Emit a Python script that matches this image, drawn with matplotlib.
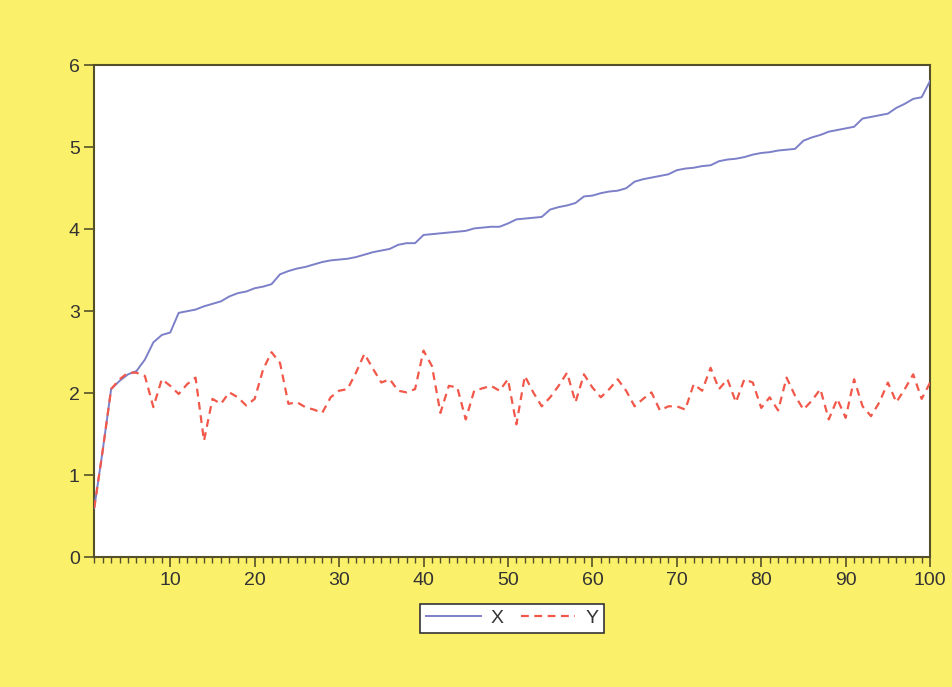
import matplotlib
matplotlib.use("Agg")
import matplotlib.pyplot as plt
from matplotlib.ticker import MultipleLocator

t = list(range(1, 101))
x_vals = [0.60, 1.30, 2.05, 2.15, 2.23, 2.27, 2.41, 2.62, 2.71, 2.74,
          2.98, 3.00, 3.02, 3.06, 3.09, 3.12, 3.18, 3.22, 3.24, 3.28,
          3.30, 3.33, 3.45, 3.49, 3.52, 3.54, 3.57, 3.60, 3.62, 3.63,
          3.64, 3.66, 3.69, 3.72, 3.74, 3.76, 3.81, 3.83, 3.83, 3.93,
          3.94, 3.95, 3.96, 3.97, 3.98, 4.01, 4.02, 4.03, 4.03, 4.07,
          4.12, 4.13, 4.14, 4.15, 4.24, 4.27, 4.29, 4.32, 4.40, 4.41,
          4.44, 4.46, 4.47, 4.50, 4.58, 4.61, 4.63, 4.65, 4.67, 4.72,
          4.74, 4.75, 4.77, 4.78, 4.83, 4.85, 4.86, 4.88, 4.91, 4.93,
          4.94, 4.96, 4.97, 4.98, 5.08, 5.12, 5.15, 5.19, 5.21, 5.23,
          5.25, 5.35, 5.37, 5.39, 5.41, 5.48, 5.53, 5.59, 5.61, 5.81]
y_vals = [0.60, 1.30, 2.05, 2.17, 2.25, 2.25, 2.21, 1.83, 2.17, 2.09,
          1.99, 2.11, 2.19, 1.42, 1.93, 1.87, 2.01, 1.95, 1.85, 1.93,
          2.29, 2.50, 2.37, 1.87, 1.89, 1.83, 1.80, 1.76, 1.95, 2.03,
          2.05, 2.25, 2.48, 2.30, 2.13, 2.17, 2.03, 2.01, 2.05, 2.52,
          2.33, 1.76, 2.09, 2.07, 1.68, 2.03, 2.06, 2.09, 2.03, 2.17,
          1.62, 2.21, 2.01, 1.84, 1.95, 2.09, 2.25, 1.89, 2.23, 2.07,
          1.95, 2.05, 2.17, 2.03, 1.84, 1.93, 2.01, 1.79, 1.84, 1.84,
          1.80, 2.11, 2.03, 2.31, 2.05, 2.17, 1.89, 2.17, 2.13, 1.82,
          1.95, 1.79, 2.19, 1.97, 1.80, 1.91, 2.05, 1.68, 1.93, 1.70,
          2.17, 1.84, 1.72, 1.89, 2.13, 1.89, 2.05, 2.23, 1.93, 2.13]

YELLOW, FRAME, BLUE, RED = "#fbf06a", "#55502a", "#7c80c8", "#f2584a"
plt.rcParams.update({"font.family": "Liberation Sans"})

fig = plt.figure(figsize=(9.52, 6.87), dpi=100, facecolor=YELLOW)
ax = fig.add_axes([0.099, 0.189, 0.878, 0.716])
ax.set_facecolor("white")

ax.plot(t, x_vals, color=BLUE, lw=1.4, label="X", zorder=3)
ax.plot(t, y_vals, color=RED, lw=1.6, ls=(0, (3.5, 2.5)), label="Y", zorder=4)

ax.set_xlim(1, 100)
ax.set_ylim(0, 6)
ax.xaxis.set_major_locator(MultipleLocator(10))
ax.xaxis.set_minor_locator(MultipleLocator(1))
ax.yaxis.set_major_locator(MultipleLocator(1))
ax.tick_params(axis="both", which="major", direction="out", length=7, width=1.2,
               color=FRAME, labelsize=14, labelcolor="#333333")
ax.tick_params(axis="x", which="minor", direction="out", length=4, width=1, color=FRAME)
for s in ax.spines.values():
    s.set_color(FRAME)
    s.set_linewidth(1.5)

leg = ax.legend(loc="upper center", bbox_to_anchor=(0.5, -0.075), ncol=2, fontsize=14,
                frameon=True, fancybox=False, framealpha=1, handlelength=2.8,
                columnspacing=0.9, borderpad=0.3, handletextpad=0.5)
leg.get_frame().set_edgecolor("#333333")
leg.get_frame().set_facecolor("white")
leg.get_frame().set_linewidth(1.2)
for txt in leg.get_texts():
    txt.set_color("#333333")

fig.savefig("out.png", dpi=100, facecolor=YELLOW)
